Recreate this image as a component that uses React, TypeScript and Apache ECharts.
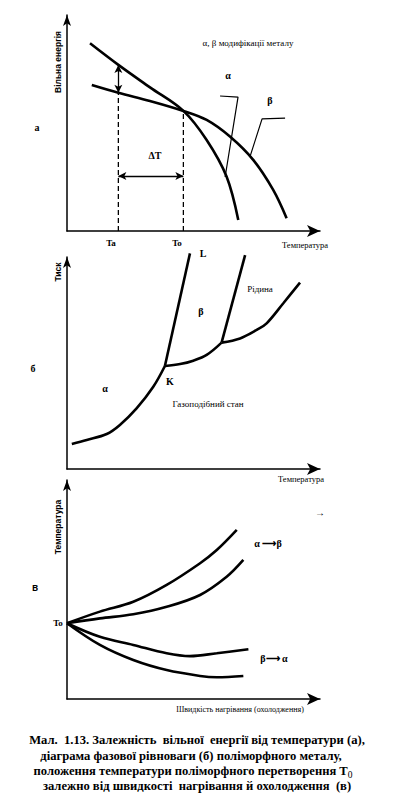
import React, { useEffect, useRef } from "react";
import * as echarts from "echarts";

// Panel а: free energy vs temperature (units 0..100)
const alphaEnergy: [number, number][] = [
  [9.1, 86.9], [20.3, 76.9], [32.8, 66.5], [46.0, 55.6], [55.2, 42.1], [63.1, 25.1], [67.7, 5.1],
];
const betaEnergy: [number, number][] = [
  [9.8, 67.6], [20.3, 64.0], [32.8, 60.2], [46.0, 55.6], [55.2, 51.4], [64.4, 43.7], [73.6, 32.9], [81.5, 19.0], [86.8, 5.9],
];
const TaX = 20.3;
const ToX = 46.0;
const TaBeta = 64.0;
const TaAlpha = 76.9;
const ToY = 55.6;
const deltaTY = 25.5;
const alphaLeader: [number, number][] = [[60.5, 62.5], [67.6, 62.0], [62.5, 25.0]];
const betaLeader: [number, number][] = [[86.2, 52.3], [77.1, 51.9], [72.3, 34.3]];

// Panel б: phase diagram (units 0..100)
const sublimation: [number, number][] = [
  [1.9, 11.8], [7.8, 13.7], [15.7, 16.5], [20.9, 20.8], [27.5, 28.6], [34.1, 38.8], [38.7, 48.6],
];
const alphaBetaLine: [number, number][] = [[38.7, 48.6], [48.6, 101.7]];
const betaGasLow: [number, number][] = [
  [38.7, 48.6], [44.7, 49.5], [49.9, 51.1], [55.2, 53.8], [61.1, 59.6],
];
const liquidGas: [number, number][] = [
  [61.1, 59.6], [68.4, 61.6], [75.0, 65.6], [78.9, 68.7], [85.5, 78.2], [92.1, 87.9],
];
const betaLiquidLine: [number, number][] = [[61.1, 59.6], [70.4, 100.9]];

// Panel в: temperature vs heating (cooling) rate (units 0..100)
const heat1: [number, number][] = [[0, 34.6], [13.0, 39.9], [26.2, 44.4], [39.4, 52.1], [52.6, 62.0], [59.2, 68.0], [67.1, 77.2]];
const heat2: [number, number][] = [[0, 34.6], [13.0, 36.8], [26.2, 38.7], [39.4, 42.1], [52.6, 47.5], [63.1, 55.8], [69.7, 63.5]];
const cool1: [number, number][] = [[0, 34.6], [13.0, 28.4], [26.2, 24.7], [39.4, 20.9], [48.6, 19.6], [59.2, 20.9], [71.7, 22.7]];
const cool2: [number, number][] = [[0, 34.6], [13.0, 24.7], [26.2, 17.8], [39.4, 13.2], [52.6, 10.5], [59.2, 9.9], [69.7, 10.5]];

const captionLines = [
  "Мал.  1.13. Залежність  вільної  енергії від температури (а),",
  "діаграма фазової рівноваги (б) поліморфного металу,",
  "положення температури поліморфного перетворення T",
  "залежно від швидкості  нагрівання й охолодження  (в)",
];

const SERIF = "Liberation Serif";
const SANS = "Liberation Sans";

function txt(text: string, x: number, y: number, family: string, size: number, weight: string, extra: any = {}) {
  return {
    type: "text",
    x,
    y,
    silent: true,
    ...extra,
    style: {
      text,
      fontFamily: family,
      fontSize: size,
      fontWeight: weight,
      fill: "#000",
      align: "center",
      verticalAlign: "middle",
      textAlign: "center",
      textVerticalAlign: "middle",
    },
  };
}

export default function App() {
  const ref = useRef<HTMLDivElement>(null);
  useEffect(() => {
    if (!ref.current) return;
    const chart = echarts.init(ref.current, undefined, { renderer: "svg" });

    const grids = [
      { left: 67, top: 15, width: 253, height: 216 },
      { left: 67, top: 257, width: 253, height: 212 },
      { left: 67, top: 480, width: 253, height: 219 },
    ];
    const axisLineStyle = { color: "#000", width: 1.5 };
    const xAxes = grids.map((_, i) => ({
      type: "value",
      gridIndex: i,
      min: 0,
      max: 100,
      axisLine: { show: true, onZero: false, symbol: ["none", "arrow"], symbolSize: [9, 13], lineStyle: axisLineStyle },
      axisTick: { show: false },
      axisLabel: { show: false },
      splitLine: { show: false },
    }));
    const yAxes = grids.map((_, i) => ({
      type: "value",
      gridIndex: i,
      min: 0,
      max: 100,
      axisLine: { show: true, onZero: false, symbol: ["none", "arrow"], symbolSize: [6, 11], lineStyle: axisLineStyle },
      axisTick: { show: false },
      axisLabel: { show: false },
      splitLine: { show: false },
    }));

    const curve = (data: [number, number][], gi: number, smooth: number | boolean = 0.35, width = 2.6) => ({
      type: "line",
      xAxisIndex: gi,
      yAxisIndex: gi,
      data,
      smooth,
      showSymbol: false,
      clip: false,
      silent: true,
      lineStyle: { color: "#000", width },
    });

    const dashed = (x: number, yTop: number) => ({
      type: "line",
      xAxisIndex: 0,
      yAxisIndex: 0,
      data: [[x, 0], [x, yTop]],
      showSymbol: false,
      silent: true,
      lineStyle: { color: "#000", width: 1.3, type: [5, 3] },
    });

    const series: any[] = [
      curve(alphaEnergy, 0),
      curve(betaEnergy, 0),
      dashed(TaX, TaBeta),
      {
        ...dashed(ToX, ToY),
        markLine: {
          silent: true,
          symbol: ["arrow", "arrow"],
          symbolSize: [6, 8],
          label: { show: false },
          lineStyle: { color: "#000", width: 1.3, type: "solid" },
          data: [
            [{ coord: [TaX, TaBeta] }, { coord: [TaX, TaAlpha] }],
            [{ coord: [TaX, deltaTY] }, { coord: [ToX, deltaTY] }],
          ],
        },
      },
      curve(alphaLeader, 0, false, 1.2),
      curve(betaLeader, 0, false, 1.2),
      curve(sublimation, 1),
      curve(alphaBetaLine, 1, false),
      curve(betaGasLow, 1),
      curve(liquidGas, 1),
      curve(betaLiquidLine, 1, false),
      curve(heat1, 2),
      curve(heat2, 2),
      curve(cool1, 2),
      curve(cool2, 2),
    ];

    const rot = { rotation: Math.PI / 2 };
    const CAP = 12.6;
    const graphic: any[] = [
      // panel а
      txt("α, β модифікації металу", 248, 43, SERIF, 9, "normal"),
      txt("α", 228, 75, SERIF, 10, "bold"),
      txt("β", 270, 100, SERIF, 10, "bold"),
      txt("ΔT", 155, 155, SERIF, 10, "bold"),
      txt("а", 37, 127, SERIF, 10, "bold"),
      txt("Ta", 111, 243, SERIF, 9, "bold"),
      txt("To", 177, 243, SERIF, 9, "bold"),
      txt("Температура", 305, 245, SERIF, 8.5, "normal"),
      txt("Вільна енергія", 58, 62, SANS, 8.5, "bold", rot),
      // panel б
      txt("L", 203, 253, SERIF, 10, "bold"),
      txt("β", 201, 311, SERIF, 10, "bold"),
      txt("Рідина", 260, 289, SERIF, 9, "normal"),
      txt("α", 105, 388, SERIF, 10, "bold"),
      txt("K", 170, 381, SERIF, 10, "bold"),
      txt("Газоподібний стан", 208, 404, SERIF, 9, "normal"),
      txt("б", 33, 368, SERIF, 10, "bold"),
      txt("Тиск", 58, 272, SANS, 8.5, "bold", rot),
      txt("Температура", 301, 479, SERIF, 8.5, "normal"),
      // panel в
      txt("→", 320, 512, SANS, 10, "bold"),
      txt("To", 58, 623, SERIF, 9, "bold"),
      txt("α ⟶β", 268, 543, SERIF, 10, "bold"),
      txt("β⟶ α", 274, 658, SERIF, 10, "bold"),
      txt("в", 35, 587, SANS, 10, "bold"),
      txt("Температура", 58, 527, SANS, 8.5, "bold", rot),
      txt("Швидкість нагрівання (охолодження)", 240, 709, SERIF, 8, "normal"),
      // caption
      txt(captionLines[0], 197, 740, SERIF, CAP, "bold"),
      txt(captionLines[1], 191, 756, SERIF, CAP, "bold"),
      {
        type: "text",
        x: 193,
        y: 771,
        silent: true,
        style: {
          text: `{b|${captionLines[2]}}{s|0}`,
          align: "center",
          verticalAlign: "middle",
          textAlign: "center",
          textVerticalAlign: "middle",
          fill: "#000",
          rich: {
            b: { fontFamily: SERIF, fontSize: CAP, fontWeight: "bold", fill: "#000" },
            s: { fontFamily: SERIF, fontSize: 9.5, fill: "#000", padding: [7, 0, 0, 0] },
          },
        },
      },
      txt(captionLines[3], 197, 786, SERIF, CAP, "bold"),
    ];

    chart.setOption({
      animation: false,
      backgroundColor: "#fff",
      grid: grids,
      xAxis: xAxes,
      yAxis: yAxes,
      series,
      graphic,
    });
    return () => chart.dispose();
  }, []);

  return (
    <div
      ref={ref}
      style={{ position: "absolute", left: 0, top: 0, width: 397, height: 804 }}
    />
  );
}
